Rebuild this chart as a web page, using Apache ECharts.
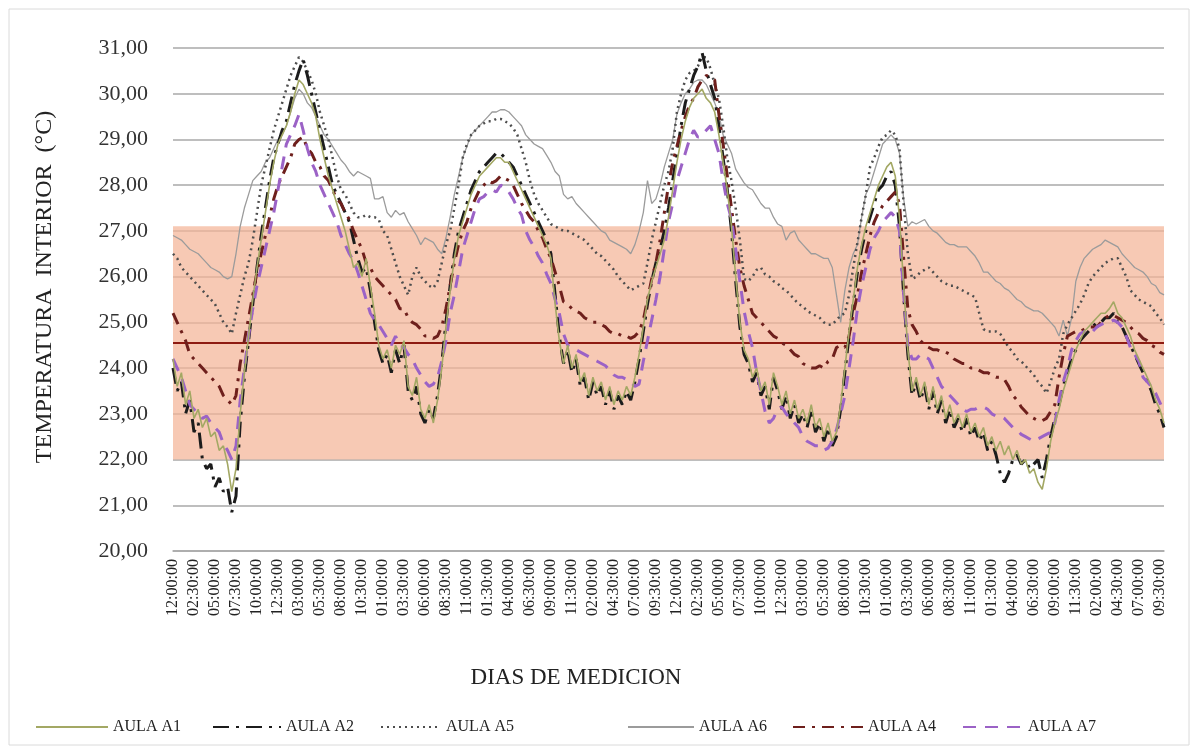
<!DOCTYPE html>
<html><head><meta charset="utf-8">
<script src="https://cdn.jsdelivr.net/npm/echarts@6/dist/echarts.min.js"></script>
<style>html,body{margin:0;padding:0;background:#fff}#c{width:1198px;height:754px}</style>
</head><body><div id="c"></div>
<script>
// time axis: readings every 30 min starting 12:00:00, one label every 2.5 h
const startLabel = '12:00:00';
const stepMinutes = 30;
const pointCount = 237;
const categories = [];
for (let i = 0; i < pointCount; i++) {
  const m = i * stepMinutes;
  let h = Math.floor(m / 60) % 12; if (h === 0) h = 12;
  categories.push(String(h).padStart(2, '0') + ':' + String(m % 60).padStart(2, '0') + ':00');
}
const yTicks = [20,21,22,23,24,25,26,27,28,29,30,31];
const comfortLow = 22, comfortHigh = 27.1, neutralTemp = 24.55;

const aulaA1 = [
24.2,23.6,23.9,23.2,23.5,22.9,23.1,22.7,22.9,22.5,
22.6,22.2,22.3,21.9,21.3,21.8,23.0,23.9,24.7,25.5,
26.2,26.8,27.4,28.0,28.5,28.9,29.1,29.3,29.6,30.0,
30.3,30.2,30.0,29.8,29.5,29.0,28.6,28.2,27.9,27.6,
27.3,27.0,26.6,26.2,26.3,26.0,26.4,25.8,25.2,24.5,
24.2,24.4,24.0,24.5,24.3,24.6,23.6,23.4,23.8,23.1,
22.9,23.2,22.8,23.3,24.0,24.9,25.7,26.4,26.9,27.2,
27.5,27.8,28.0,28.2,28.3,28.4,28.5,28.6,28.6,28.5,
28.5,28.3,28.1,27.9,27.7,27.5,27.3,27.1,26.9,26.7,
26.4,25.4,24.6,24.1,24.5,24.0,24.3,23.7,23.9,23.4,
23.8,23.5,23.7,23.3,23.6,23.2,23.5,23.3,23.6,23.4,
23.8,24.3,24.9,25.5,25.9,26.2,26.5,26.8,27.3,27.9,
28.5,29.0,29.4,29.7,29.9,30.0,30.1,29.9,29.8,29.6,
29.1,28.5,27.9,27.1,26.0,25.0,24.4,24.2,23.8,24.0,
23.5,23.7,23.2,23.9,23.6,23.2,23.5,23.0,23.3,22.9,
23.1,22.8,23.2,22.7,22.9,22.5,22.8,22.4,22.6,23.2,
24.0,24.8,25.5,26.2,26.7,27.1,27.4,27.7,28.0,28.2,
28.4,28.5,28.2,27.3,25.8,24.4,23.5,23.8,23.4,23.7,
23.2,23.6,23.1,23.4,22.9,23.2,22.8,23.0,22.7,23.0,
22.6,22.8,22.5,22.7,22.3,22.5,22.2,22.4,22.1,22.3,
22.0,22.2,21.9,22.0,21.7,21.8,21.5,21.35,21.8,22.4,
22.8,23.1,23.5,23.8,24.1,24.4,24.6,24.8,24.9,25.0,
25.1,25.2,25.2,25.3,25.45,25.2,25.1,24.9,24.7,24.4,
24.2,24.0,23.8,23.6,23.3,23.1,22.8];

const aulaA2 = [
24.0,23.5,23.7,23.0,23.3,22.6,22.8,22.0,21.8,21.9,
21.4,21.6,21.3,21.4,20.85,21.2,22.8,23.8,24.6,25.4,
26.2,26.9,27.5,28.1,28.6,28.9,29.2,29.4,29.8,30.2,
30.5,30.75,30.4,30.0,29.6,29.2,28.8,28.4,28.0,27.8,
27.6,27.4,27.2,26.8,26.4,26.1,26.2,25.7,25.0,24.4,
24.1,24.3,23.9,24.4,24.1,24.5,23.5,23.3,23.6,23.0,
22.8,23.1,22.9,23.4,24.1,25.0,25.8,26.5,27.0,27.3,
27.6,27.9,28.1,28.3,28.4,28.5,28.6,28.7,28.7,28.6,
28.5,28.4,28.2,28.0,27.8,27.6,27.4,27.2,27.0,26.8,
26.5,25.6,24.7,24.1,24.4,23.9,24.2,23.6,23.8,23.3,
23.7,23.4,23.6,23.2,23.5,23.1,23.4,23.2,23.5,23.3,
23.7,24.2,24.8,25.4,25.9,26.3,26.6,27.0,27.5,28.1,
28.7,29.3,29.8,30.1,30.4,30.6,30.9,30.5,30.2,29.9,
29.3,28.6,27.9,27.0,25.9,24.9,24.3,24.1,23.7,23.9,
23.4,23.6,23.1,23.8,23.5,23.1,23.4,22.9,23.2,22.8,
23.0,22.7,23.1,22.6,22.8,22.4,22.7,22.3,22.5,23.1,
23.9,24.7,25.4,26.1,26.6,27.0,27.3,27.6,27.9,28.0,
28.2,28.3,28.0,27.1,25.6,24.3,23.4,23.7,23.3,23.6,
23.1,23.5,23.0,23.3,22.8,23.1,22.7,22.9,22.6,22.9,
22.5,22.7,22.4,22.6,22.2,22.4,22.1,21.7,21.5,21.7,
22.0,22.1,21.9,22.0,21.8,21.9,22.0,21.6,22.0,22.5,
22.9,23.2,23.6,23.9,24.2,24.4,24.6,24.7,24.8,24.9,
25.0,25.0,25.1,25.1,25.2,25.0,24.9,24.7,24.5,24.3,
24.1,23.9,23.7,23.5,23.2,23.0,22.7];

const aulaA5 = [
26.5,26.4,26.2,26.1,26.0,25.9,25.8,25.7,25.6,25.5,
25.4,25.2,25.0,24.9,24.75,25.2,25.6,26.0,26.3,26.8,
27.4,28.0,28.4,28.8,29.2,29.5,29.8,30.1,30.4,30.6,
30.8,30.7,30.5,30.3,30.0,29.6,29.3,29.0,28.6,28.2,
27.9,27.8,27.6,27.4,27.3,27.3,27.35,27.3,27.3,27.25,
27.0,26.9,26.6,26.3,26.0,25.8,25.6,26.0,26.2,26.0,
25.9,25.8,25.75,25.9,26.3,26.7,27.0,27.5,28.0,28.6,
28.9,29.1,29.2,29.3,29.35,29.4,29.4,29.45,29.45,29.4,
29.35,29.25,29.1,28.8,28.5,28.1,27.8,27.6,27.45,27.3,
27.15,27.1,27.05,27.0,27.0,26.95,26.9,26.85,26.8,26.7,
26.6,26.5,26.45,26.35,26.25,26.15,26.0,25.9,25.8,25.7,
25.75,25.8,25.85,26.3,26.8,27.2,27.6,28.0,28.3,28.8,
29.6,30.0,30.3,30.45,30.5,30.6,30.8,30.8,30.55,30.2,
29.9,29.3,28.6,28.1,27.5,26.8,25.95,25.9,26.0,26.15,
26.2,26.05,26.0,25.9,25.85,25.75,25.7,25.6,25.5,25.4,
25.35,25.25,25.2,25.15,25.1,25.0,24.95,24.95,25.05,25.15,
25.2,25.6,26.2,26.75,27.3,27.8,28.4,28.6,28.85,29.05,
29.1,29.2,29.1,28.8,27.6,26.5,25.95,26.0,26.1,26.15,
26.2,26.1,26.0,25.9,25.85,25.8,25.8,25.75,25.7,25.65,
25.6,25.55,25.2,24.85,24.8,24.8,24.8,24.75,24.6,24.45,
24.35,24.2,24.15,24.05,23.95,23.85,23.7,23.6,23.45,23.7,
24.0,24.2,24.75,24.95,25.1,25.25,25.4,25.6,25.85,26.0,
26.1,26.2,26.3,26.35,26.4,26.4,26.2,26.0,25.7,25.6,
25.5,25.45,25.4,25.35,25.2,25.1,24.95];

const aulaA6 = [
26.9,26.85,26.8,26.7,26.6,26.55,26.5,26.4,26.3,26.2,
26.15,26.1,26.0,25.95,26.0,26.5,27.1,27.5,27.8,28.1,
28.2,28.3,28.5,28.6,28.8,29.0,29.1,29.3,29.6,29.9,
30.1,30.0,29.8,29.7,29.5,29.3,29.1,29.0,28.85,28.7,
28.55,28.45,28.3,28.2,28.3,28.25,28.2,28.15,27.7,27.7,
27.75,27.4,27.3,27.45,27.35,27.4,27.2,27.05,26.9,26.7,
26.85,26.8,26.75,26.6,26.5,26.85,27.3,27.8,28.2,28.6,
28.85,29.1,29.2,29.3,29.4,29.5,29.6,29.6,29.65,29.65,
29.6,29.5,29.4,29.3,29.1,29.0,28.9,28.85,28.8,28.65,
28.5,28.3,28.2,27.8,27.7,27.75,27.6,27.5,27.4,27.3,
27.2,27.1,27.0,26.95,26.8,26.75,26.7,26.65,26.6,26.5,
26.7,27.0,27.4,28.1,27.6,27.7,28.0,28.4,28.7,29.0,
29.55,29.8,30.0,30.1,30.25,30.3,30.3,30.2,30.0,29.8,
29.55,29.1,28.9,28.7,28.35,28.2,28.05,27.95,27.9,27.75,
27.6,27.5,27.5,27.3,27.15,27.1,26.8,26.95,27.0,26.8,
26.7,26.6,26.5,26.5,26.45,26.4,26.4,26.2,25.6,25.0,
25.7,26.2,26.5,26.7,27.3,27.8,28.0,28.3,28.6,28.9,
29.0,29.1,29.0,28.7,27.7,27.1,27.2,27.15,27.2,27.25,
27.1,27.0,26.95,26.85,26.75,26.7,26.7,26.65,26.65,26.65,
26.55,26.45,26.3,26.1,26.1,26.0,25.9,25.85,25.75,25.7,
25.6,25.5,25.45,25.35,25.3,25.25,25.25,25.2,25.1,25.0,
24.9,24.7,25.05,24.7,25.1,25.9,26.2,26.4,26.5,26.6,
26.65,26.7,26.8,26.75,26.7,26.65,26.5,26.4,26.3,26.2,
26.15,26.1,26.0,25.85,25.8,25.65,25.6];

const aulaA4 = [
25.2,25.0,24.8,24.6,24.3,24.2,24.1,24.0,23.9,23.8,
23.7,23.6,23.4,23.3,23.2,23.4,24.1,24.6,25.1,25.6,
26.1,26.5,26.9,27.3,27.7,28.0,28.2,28.4,28.6,28.9,
29.0,29.05,28.8,28.7,28.5,28.4,28.2,28.1,27.9,27.7,
27.6,27.4,27.25,27.0,26.8,26.6,26.3,26.2,26.0,25.9,
25.8,25.7,25.6,25.5,25.3,25.3,25.1,25.0,24.95,24.85,
24.7,24.7,24.65,24.7,24.9,25.3,25.8,26.3,26.7,27.0,
27.2,27.5,27.7,27.9,28.0,28.1,28.05,28.1,28.2,28.15,
28.1,28.0,27.8,27.6,27.45,27.3,27.2,27.0,26.85,26.6,
26.4,26.1,25.8,25.45,25.4,25.3,25.25,25.2,25.1,25.05,
25.0,25.0,24.95,24.9,24.8,24.75,24.75,24.7,24.7,24.65,
24.7,24.8,25.05,25.5,25.95,26.3,26.8,27.4,28.0,28.5,
28.85,29.2,29.5,29.75,29.9,30.15,30.3,30.4,30.35,30.3,
29.55,28.9,28.2,27.5,26.8,26.2,25.8,25.5,25.2,25.1,
25.0,24.9,24.8,24.7,24.65,24.55,24.5,24.4,24.3,24.25,
24.1,24.05,24.0,24.0,24.05,24.0,24.15,24.2,24.45,24.5,
24.45,24.7,25.2,25.6,26.1,26.5,26.9,27.2,27.4,27.55,
27.65,27.75,27.85,27.6,26.4,25.3,24.95,24.8,24.6,24.5,
24.45,24.4,24.4,24.35,24.35,24.3,24.2,24.15,24.1,24.1,
24.0,24.0,23.95,23.9,23.9,23.85,23.8,23.8,23.75,23.6,
23.4,23.3,23.15,23.05,22.95,22.9,22.85,22.85,22.9,23.05,
23.2,23.8,24.3,24.7,24.75,24.8,24.8,24.85,24.9,24.9,
24.9,25.0,25.1,25.15,25.15,25.1,25.05,25.0,24.9,24.8,
24.75,24.65,24.6,24.5,24.45,24.35,24.3];

const aulaA7 = [
24.2,24.0,23.8,23.5,23.2,23.1,23.0,22.9,22.95,22.8,
22.7,22.6,22.35,22.2,22.0,22.3,23.3,24.0,24.7,25.3,
25.8,26.2,26.6,27.0,27.4,27.9,28.4,28.9,29.1,29.3,
29.55,29.2,28.8,28.5,28.3,28.0,27.8,27.6,27.4,27.2,
26.9,26.7,26.5,26.35,26.1,25.8,25.5,25.2,25.05,24.95,
24.8,24.65,24.5,24.7,24.5,24.45,24.3,24.2,24.0,23.85,
23.7,23.6,23.65,23.8,24.15,24.6,25.2,25.6,26.1,26.6,
26.9,27.2,27.5,27.7,27.75,27.85,27.9,27.85,28.0,27.95,
27.85,27.7,27.5,27.35,27.0,26.8,26.65,26.45,26.3,26.05,
25.85,25.5,25.2,24.75,24.5,24.45,24.4,24.35,24.3,24.25,
24.2,24.15,24.1,24.05,23.95,23.85,23.8,23.8,23.75,23.7,
23.6,23.65,24.15,24.6,25.05,25.5,26.0,26.6,27.2,27.6,
28.1,28.4,28.7,29.0,29.2,29.05,29.1,29.2,29.3,29.0,
28.7,28.1,27.6,27.25,26.6,25.9,25.25,24.8,24.45,23.9,
23.5,23.05,22.8,22.9,23.1,23.15,23.0,22.9,22.8,22.7,
22.5,22.4,22.35,22.3,22.3,22.2,22.25,22.4,22.65,23.0,
23.4,24.0,24.6,25.3,25.8,26.2,26.6,26.85,27.0,27.2,
27.3,27.4,27.3,27.0,25.6,24.5,24.2,24.2,24.3,24.25,
24.2,24.0,23.8,23.6,23.5,23.4,23.3,23.2,23.1,23.05,
23.1,23.1,23.15,23.15,23.1,23.0,22.95,22.95,22.9,22.8,
22.7,22.65,22.55,22.5,22.45,22.4,22.45,22.5,22.55,22.6,
22.8,23.3,23.7,24.0,24.4,24.6,24.75,24.8,24.75,24.8,
24.9,24.95,25.0,25.0,25.05,25.0,24.9,24.7,24.45,24.3,
24.15,23.8,23.7,23.6,23.45,23.25,23.05];

const serifFont = "'Liberation Serif','Times New Roman',serif";
const seriesDefs = [
  {name:'AULA A6', data:aulaA6, color:'#9b9b9b', width:1.3, type:'solid'},
  {name:'AULA A5', data:aulaA5, color:'#4d4d4d', width:2.5, type:[2,4]},
  {name:'AULA A2', data:aulaA2, color:'#1c1c1c', width:3, type:[16,7,3,7]},
  {name:'AULA A4', data:aulaA4, color:'#6e1f1c', width:3, type:[12,7,3,7]},
  {name:'AULA A7', data:aulaA7, color:'#9b62c6', width:3, type:[13,9]},
  {name:'AULA A1', data:aulaA1, color:'#a3a864', width:1.6, type:'solid'}
];

const series = seriesDefs.map(d => ({
  name: d.name, type: 'line', data: d.data, symbol: 'none', symbolSize: 0, showSymbol: false,
  lineStyle: {color: d.color, width: d.width, type: d.type},
  itemStyle: {color: d.color}, z: 3, animation: false
}));
series.unshift({
  name: 'band', type: 'line', data: [], symbol: 'none', z: 1, silent: true,
  markArea: {silent: true, z: 1, itemStyle: {color: '#f4b497', opacity: 0.72},
    data: [[{yAxis: comfortLow}, {yAxis: comfortHigh}]]},
  markLine: {silent: true, z: 2, symbol: 'none', label: {show: false},
    lineStyle: {color: '#8e1b12', width: 2, type: 'solid'},
    data: [{yAxis: neutralTemp}]}
});

const legendPos = [
  {name:'AULA A1', left:30, w:72},
  {name:'AULA A2', left:207, w:68},
  {name:'AULA A5', left:375, w:60},
  {name:'AULA A6', left:622, w:66},
  {name:'AULA A4', left:787, w:70},
  {name:'AULA A7', left:957, w:60}
];

const chart = echarts.init(document.getElementById('c'), null, {renderer: 'canvas'});
chart.setOption({
  backgroundColor: '#ffffff',
  animation: false,
  grid: {left: 173, right: 34, top: 48, bottom: 203},
  xAxis: {
    type: 'category', data: categories, boundaryGap: false,
    axisLine: {show: true, lineStyle: {color: '#a9a9a9', width: 1.5}},
    axisTick: {show: false},
    axisLabel: {interval: 4, rotate: 90, fontSize: 16, color: '#222', fontFamily: serifFont, margin: 8},
    splitLine: {show: false}
  },
  yAxis: {
    type: 'value', min: yTicks[0], max: yTicks[yTicks.length - 1], interval: 1,
    axisLine: {show: false}, axisTick: {show: false},
    axisLabel: {fontSize: 22, color: '#333', fontFamily: serifFont, margin: 25,
      formatter: v => v.toFixed(2).replace('.', ',')},
    splitLine: {lineStyle: {color: '#a9a9a9', width: 1.5}}
  },
  legend: legendPos.map(l => ({
    data: [{name: l.name, itemStyle: {color: 'rgba(0,0,0,0)', borderWidth: 0}}],
    left: l.left, top: 714, itemWidth: l.w, itemHeight: 16,
    itemStyle: {color: 'rgba(0,0,0,0)', borderWidth: 0},
    textStyle: {fontSize: 16, color: '#222', fontFamily: serifFont},
    selectedMode: false
  })),
  graphic: [
    {type: 'rect', shape: {x: 9, y: 9, width: 1180, height: 736}, style: {fill: 'none', stroke: '#dadada', lineWidth: 1}, silent: true},
    {type: 'text', x: 45, y: 287, rotation: Math.PI / 2, silent: true,
      style: {text: 'TEMPERATURA  INTERIOR  (°C)', fontSize: 24, fontFamily: serifFont, fill: '#222', align: 'center', verticalAlign: 'middle'}},
    {type: 'text', x: 576, y: 678, silent: true,
      style: {text: 'DIAS DE MEDICION', fontSize: 23, fontFamily: serifFont, fill: '#222', align: 'center', verticalAlign: 'middle'}}
  ],
  series: series
});
</script>
</body></html>
